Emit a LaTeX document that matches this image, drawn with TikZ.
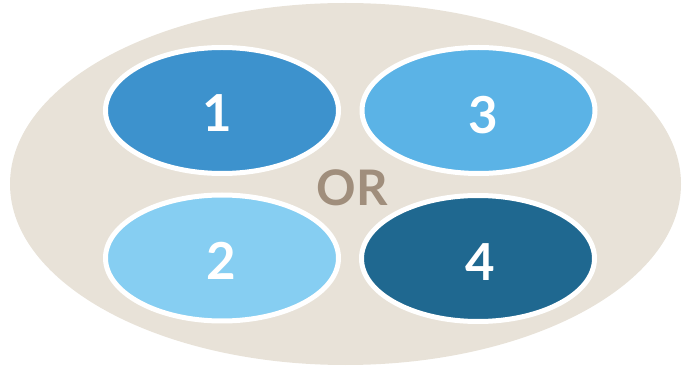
\documentclass[tikz,border=0pt]{standalone}
\usepackage{fontspec}
\setmainfont{Lato}
\usetikzlibrary{shapes.geometric}
\definecolor{bgc}{HTML}{E8E2D8}
\definecolor{cone}{HTML}{3D92CD}
\definecolor{ctwo}{HTML}{86CEF2}
\definecolor{cthree}{HTML}{5BB3E6}
\definecolor{cfour}{HTML}{1F6890}
\definecolor{orc}{HTML}{A08E7C}
\tikzset{
  blob/.style={ellipse, draw=white, line width=5pt, minimum width=233pt, minimum height=126pt, inner sep=0pt},
  num/.style={text=white, font=\fontsize{51}{51}\selectfont\bfseries, inner sep=0pt},
}
\begin{document}
\begin{tikzpicture}[x=1pt,y=-1pt]
\useasboundingbox (0,0) rectangle (686,366);
\node[ellipse, fill=bgc, minimum width=671pt, minimum height=362pt, inner sep=0pt] (outer) at (345.5,184) {};
\node[blob, fill=cone] (e1) at (222,110.5) {};
\node[blob, fill=cthree] (e3) at (478.5,110.5) {};
\node[blob, fill=ctwo] (e2) at (222,258) {};
\node[blob, fill=cfour] (e4) at (478,258.5) {};
\node[num] (t1) at (217,113.5) {1};
\node[num] (t3) at (483.5,115.5) {3};
\node[num] (t2) at (221,261) {2};
\node[num] (t4) at (480.5,262.5) {4};
\node[text=orc, font=\fontsize{49}{49}\selectfont\bfseries, inner sep=0pt] (or) at (352,188) {OR};
\end{tikzpicture}
\end{document}
